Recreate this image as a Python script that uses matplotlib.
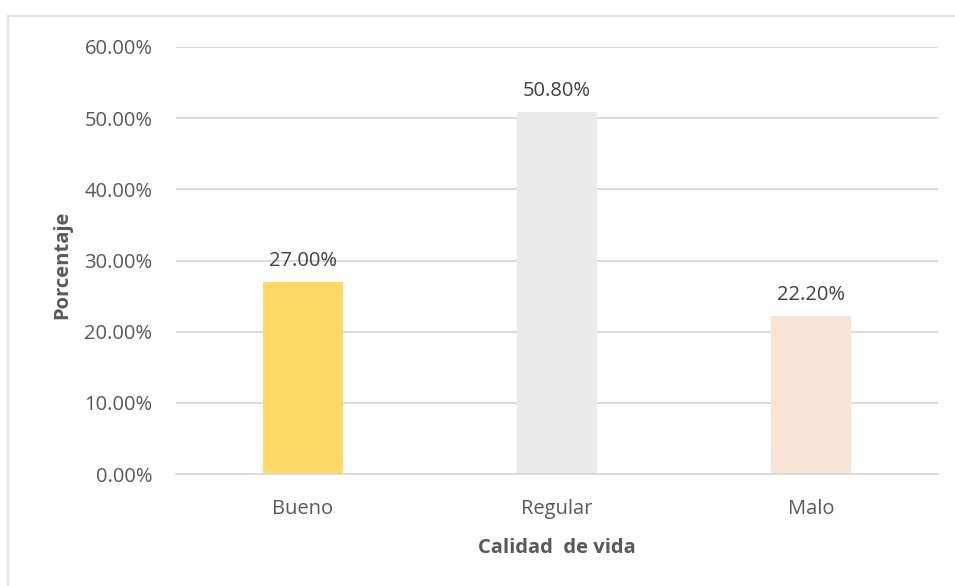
import matplotlib.pyplot as plt
from matplotlib.lines import Line2D
from matplotlib.ticker import FuncFormatter

categories = ["Bueno", "Regular", "Malo"]
values = [27.0, 50.8, 22.2]
colors = ["#FFD966", "#EBEBEB", "#F8E3D6"]
yticks = [0, 10, 20, 30, 40, 50, 60]

plt.rcParams["font.family"] = ["Open Sans", "DejaVu Sans"]
TXT = "#595959"
GRID = "#D9D9D9"
FS = 14.5

fig = plt.figure(figsize=(9.55, 5.86), dpi=100)
ax = fig.add_axes([176 / 955, 1 - 474 / 586, 762 / 955, 427 / 586])

x = range(len(categories))
bars = ax.bar(x, values, width=80 / 254, color=colors, zorder=2)
for b, v in zip(bars, values):
    ax.annotate(f"{v:.2f}%", (b.get_x() + b.get_width() / 2, v),
                xytext=(0, 8), textcoords="offset points",
                ha="center", va="bottom", fontsize=FS, color="#404040")

ax.set_xlim(-0.5, 2.5)
ax.set_ylim(0, 60)
ax.set_yticks(yticks)
ax.yaxis.set_major_formatter(FuncFormatter(lambda v, p: f"{v:.2f}%"))
ax.set_xticks(list(x))
ax.set_xticklabels(categories)
ax.tick_params(axis="both", length=0, labelsize=FS, labelcolor=TXT)
ax.tick_params(axis="y", pad=17)
ax.tick_params(axis="x", pad=18)
ax.grid(axis="y", color=GRID, linewidth=1.3, zorder=0)
for s in ["top", "right", "left"]:
    ax.spines[s].set_visible(False)
ax.spines["bottom"].set_color(GRID)
ax.spines["bottom"].set_linewidth(1.3)

fig.text(557 / 955, 1 - 548 / 586, "Calidad  de vida", ha="center", va="center",
         fontsize=FS, fontweight="bold", color=TXT)
fig.text(62 / 955, 1 - 265 / 586, "Porcentaje", ha="center", va="center",
         rotation=90, fontsize=FS, fontweight="bold", color=TXT)

# outer chart border (top and left visible)
fig.add_artist(Line2D([8 / 955, 1], [1 - 16 / 586] * 2, color="#E3E3E3", lw=1.5))
fig.add_artist(Line2D([8 / 955] * 2, [0, 1 - 16 / 586], color="#E3E3E3", lw=1.5))

fig.savefig("out.png", dpi=100)
